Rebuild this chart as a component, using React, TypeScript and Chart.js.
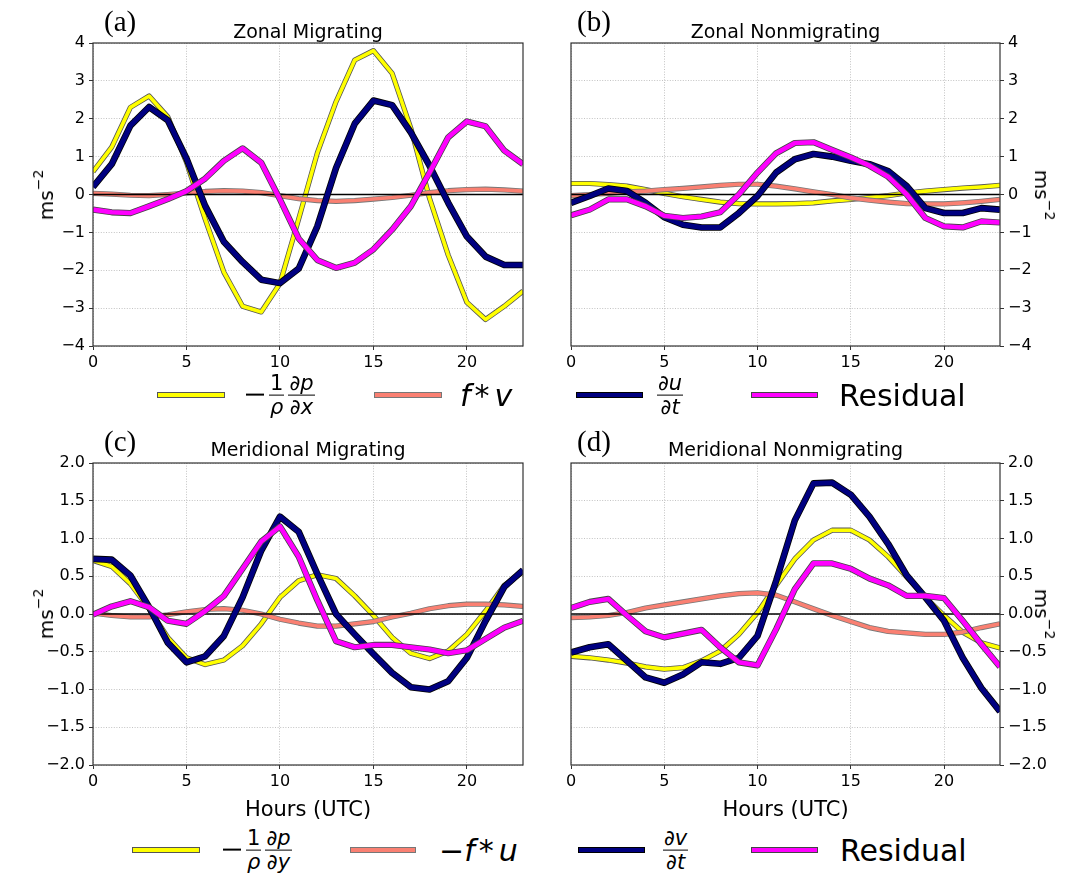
import React, { useEffect, useRef } from 'react';
import { Chart, registerables } from 'chart.js';

Chart.register(...registerables);

// ---------- data ----------
const hours = [0, 1, 2, 3, 4, 5, 6, 7, 8, 9, 10, 11, 12, 13, 14, 15, 16, 17, 18, 19, 20, 21, 22, 23];
const xTicks = [0, 5, 10, 15, 20];
const zonalYTicks = [-4, -3, -2, -1, 0, 1, 2, 3, 4];
const meridYTicks = [-2, -1.5, -1, -0.5, 0, 0.5, 1, 1.5, 2];

// (a) Zonal Migrating
const zmPressure = [0.6, 1.25, 2.3, 2.6, 2.05, 0.85, -0.65, -2.05, -2.95, -3.1, -2.35, -0.65, 1.1, 2.45, 3.55, 3.8, 3.2, 1.75, -0.1, -1.6, -2.85, -3.3, -2.95, -2.55];
const zmCoriolis = [0.03, 0.01, -0.02, -0.03, 0.0, 0.04, 0.08, 0.1, 0.09, 0.05, -0.03, -0.11, -0.16, -0.18, -0.16, -0.12, -0.08, -0.02, 0.05, 0.1, 0.13, 0.14, 0.12, 0.09];
const zmTendency = [0.2, 0.8, 1.82, 2.31, 1.96, 0.95, -0.3, -1.25, -1.78, -2.25, -2.34, -1.96, -0.84, 0.7, 1.87, 2.48, 2.36, 1.64, 0.76, -0.22, -1.11, -1.64, -1.86, -1.86];
const zmResidual = [-0.4, -0.47, -0.49, -0.31, -0.12, 0.09, 0.42, 0.89, 1.22, 0.84, -0.13, -1.16, -1.73, -1.94, -1.8, -1.45, -0.93, -0.31, 0.58, 1.51, 1.93, 1.8, 1.16, 0.8];

// (b) Zonal Nonmigrating
const znPressure = [0.29, 0.29, 0.26, 0.22, 0.13, 0.03, -0.06, -0.13, -0.2, -0.24, -0.25, -0.25, -0.24, -0.22, -0.17, -0.13, -0.08, -0.03, 0.04, 0.09, 0.13, 0.17, 0.2, 0.24];
const znCoriolis = [-0.03, 0.0, 0.03, 0.07, 0.09, 0.13, 0.16, 0.2, 0.24, 0.27, 0.27, 0.22, 0.15, 0.07, 0.0, -0.09, -0.15, -0.2, -0.24, -0.25, -0.25, -0.22, -0.18, -0.13];
const znTendency = [-0.22, -0.04, 0.16, 0.09, -0.22, -0.6, -0.8, -0.87, -0.87, -0.49, -0.04, 0.58, 0.93, 1.07, 1.0, 0.89, 0.8, 0.62, 0.22, -0.36, -0.49, -0.49, -0.36, -0.4];
const znResidual = [-0.55, -0.4, -0.13, -0.13, -0.31, -0.56, -0.62, -0.58, -0.47, 0.0, 0.58, 1.09, 1.36, 1.38, 1.18, 0.98, 0.76, 0.47, 0.0, -0.62, -0.84, -0.87, -0.71, -0.74];

// (c) Meridional Migrating
const mmPressure = [0.71, 0.63, 0.4, 0.07, -0.31, -0.58, -0.67, -0.61, -0.42, -0.13, 0.22, 0.44, 0.52, 0.47, 0.24, -0.02, -0.31, -0.52, -0.59, -0.49, -0.27, 0.04, 0.38, 0.56];
const mmCoriolis = [0.01, -0.02, -0.04, -0.04, -0.01, 0.03, 0.06, 0.07, 0.05, 0.0, -0.07, -0.12, -0.16, -0.16, -0.13, -0.1, -0.04, 0.01, 0.07, 0.11, 0.13, 0.13, 0.12, 0.1];
const mmTendency = [0.73, 0.72, 0.51, 0.09, -0.38, -0.64, -0.56, -0.29, 0.22, 0.84, 1.29, 1.09, 0.53, 0.0, -0.27, -0.53, -0.78, -0.97, -1.0, -0.89, -0.58, -0.09, 0.36, 0.58];
const mmResidual = [-0.01, 0.1, 0.17, 0.09, -0.09, -0.13, 0.04, 0.24, 0.6, 0.96, 1.16, 0.76, 0.18, -0.36, -0.44, -0.41, -0.41, -0.44, -0.47, -0.52, -0.48, -0.33, -0.18, -0.09];

// (d) Meridional Nonmigrating
const mnPressure = [-0.56, -0.58, -0.61, -0.65, -0.7, -0.73, -0.71, -0.62, -0.49, -0.27, 0.02, 0.38, 0.73, 0.98, 1.11, 1.11, 0.98, 0.76, 0.49, 0.22, -0.02, -0.24, -0.38, -0.45];
const mnCoriolis = [-0.05, -0.04, -0.02, 0.02, 0.08, 0.12, 0.16, 0.2, 0.24, 0.27, 0.28, 0.25, 0.16, 0.07, -0.02, -0.1, -0.18, -0.23, -0.25, -0.27, -0.27, -0.24, -0.18, -0.13];
const mnTendency = [-0.51, -0.44, -0.4, -0.62, -0.84, -0.91, -0.8, -0.64, -0.66, -0.58, -0.29, 0.44, 1.24, 1.73, 1.74, 1.58, 1.29, 0.93, 0.51, 0.22, -0.09, -0.58, -0.98, -1.29];
const mnResidual = [0.08, 0.16, 0.2, -0.02, -0.23, -0.31, -0.26, -0.21, -0.44, -0.64, -0.68, -0.2, 0.33, 0.67, 0.67, 0.6, 0.47, 0.38, 0.24, 0.24, 0.21, -0.09, -0.4, -0.7];

// ---------- styles ----------
const SERIES_STYLE = [
  { color: '#ffff00', edge: '#555555', w: 3.6 },
  { color: '#fa8072', edge: '#777777', w: 3.6 },
  { color: '#000080', edge: '#000000', w: 5 },
  { color: '#ff00ff', edge: '#444444', w: 4.6 },
];
const SANS = "'DejaVu Sans', 'Noto Sans', sans-serif";
const SERIF = "'Liberation Serif', 'DejaVu Serif', serif";

const fmtInt = (v: number) => (v < 0 ? '\u2212' + Math.abs(v) : String(v));
const fmtOne = (v: number) => (v < 0 ? '\u2212' + Math.abs(v).toFixed(1) : v.toFixed(1));

const framePlugin = {
  id: 'frameAndZero',
  afterDatasetDraw(chart: any, args: any) {
    if (args.index !== 3) return;
    const { ctx, chartArea } = chart;
    const y0 = chart.scales.y.getPixelForValue(0);
    ctx.save();
    ctx.strokeStyle = '#000000';
    ctx.lineWidth = 1.5;
    ctx.beginPath();
    ctx.moveTo(chartArea.left, y0);
    ctx.lineTo(chartArea.right, y0);
    ctx.stroke();
    ctx.restore();
  },
  afterDraw(chart: any) {
    const { ctx, chartArea } = chart;
    ctx.save();
    ctx.strokeStyle = '#333333';
    ctx.lineWidth = 1.2;
    ctx.strokeRect(chartArea.left, chartArea.top, chartArea.right - chartArea.left, chartArea.bottom - chartArea.top);
    ctx.restore();
  },
};

type PanelProps = {
  x: number; y: number; w: number; h: number;
  padLeft: number; padRight: number; padTop: number;
  yWidth: number; xHeight: number;
  side: 'left' | 'right';
  yMin: number; yMax: number; yTicks: number[];
  fmt: (v: number) => string;
  series: number[][];
};

function Panel(p: PanelProps) {
  const ref = useRef<HTMLCanvasElement>(null);
  useEffect(() => {
    const canvas = ref.current;
    if (!canvas) return;
    const datasets: any[] = [];
    let order = p.series.length * 2;
    p.series.forEach((vals, i) => {
      const st = SERIES_STYLE[i];
      const pts = hours.map((hr, j) => ({ x: hr, y: vals[j] }));
      datasets.push({
        data: pts, borderColor: st.edge, borderWidth: st.w + 1.6, pointRadius: 0, tension: 0,
        borderJoinStyle: 'round', fill: false, order: order--, clip: 0,
      });
      datasets.push({
        data: pts, borderColor: st.color, borderWidth: st.w, pointRadius: 0, tension: 0,
        borderJoinStyle: 'round', fill: false, order: order--, clip: 0,
      });
    });
    const tickFont = { family: SANS, size: 16 };
    const chart = new Chart(canvas, {
      type: 'line',
      data: { datasets },
      options: {
        animation: false,
        responsive: false,
        maintainAspectRatio: false,
        devicePixelRatio: 1,
        layout: { padding: { left: p.padLeft, right: p.padRight, top: p.padTop, bottom: 0 } },
        plugins: { legend: { display: false }, tooltip: { enabled: false }, title: { display: false } },
        scales: {
          x: {
            type: 'linear', min: 0, max: 23,
            afterBuildTicks: (s: any) => { s.ticks = xTicks.map((v) => ({ value: v })); },
            afterFit: (s: any) => { s.height = p.xHeight; },
            ticks: { font: tickFont, color: '#000', padding: 3, maxRotation: 0, autoSkip: false, callback: (v: any) => String(v) },
            grid: { color: '#b4b4b4', lineWidth: 0.8, tickColor: '#333', tickLength: 4, tickWidth: 1 },
            border: { display: false, dash: [1, 1.6] },
          },
          y: {
            type: 'linear', position: p.side, min: p.yMin, max: p.yMax,
            afterBuildTicks: (s: any) => { s.ticks = p.yTicks.map((v) => ({ value: v })); },
            afterFit: (s: any) => { s.width = p.yWidth; },
            ticks: { font: tickFont, color: '#000', padding: 4, autoSkip: false, callback: (v: any) => p.fmt(Number(v)) },
            grid: { color: '#b4b4b4', lineWidth: 0.8, tickColor: '#333', tickLength: 4, tickWidth: 1 },
            border: { display: false, dash: [1, 1.6] },
          },
        },
      } as any,
      plugins: [framePlugin],
    });
    return () => chart.destroy();
  }, []);
  return (
    <canvas
      ref={ref}
      width={p.w}
      height={p.h}
      style={{ position: 'absolute', left: p.x, top: p.y, width: p.w, height: p.h }}
    />
  );
}

// ---------- text helpers ----------
const I = ({ children }: { children: React.ReactNode }) => <span style={{ fontStyle: 'italic' }}>{children}</span>;

const Frac = ({ num, den, size = 21 }: { num: React.ReactNode; den: React.ReactNode; size?: number }) => (
  <span style={{ display: 'inline-flex', flexDirection: 'column', alignItems: 'center', fontSize: size, lineHeight: 0.9, margin: '0 2px' }}>
    <span style={{ padding: '0 1px' }}>{num}</span>
    <span style={{ alignSelf: 'stretch', height: 0, borderTop: '1.8px solid #000', margin: '2px 0 2px' }} />
    <span style={{ padding: '0 1px' }}>{den}</span>
  </span>
);

const Text = ({ left, top, size, family = SANS, children, style }: any) => (
  <div style={{ position: 'absolute', left, top, fontSize: size, lineHeight: 1, fontFamily: family, color: '#000', whiteSpace: 'nowrap', ...style }}>
    {children}
  </div>
);

const Centered = ({ left, width, top, size, children }: any) => (
  <div style={{ position: 'absolute', left, width, top, fontSize: size, lineHeight: 1, fontFamily: SANS, textAlign: 'center', whiteSpace: 'nowrap', color: '#000' }}>
    {children}
  </div>
);

const YLabel = ({ cx, cy, rot }: { cx: number; cy: number; rot: number }) => (
  <div style={{ position: 'absolute', left: cx, top: cy, transform: `translate(-50%, -50%) rotate(${rot}deg)`, fontFamily: SANS, fontSize: 20, lineHeight: 1, whiteSpace: 'nowrap', color: '#000' }}>
    ms<sup style={{ fontSize: 14, verticalAlign: 'top', position: 'relative', top: -5 }}>{'\u22122'}</sup>
  </div>
);

const Swatch = ({ left, cy, width, idx }: { left: number; cy: number; width: number; idx: number }) => (
  <div style={{ position: 'absolute', left, top: cy - 3, width, height: 4, background: SERIES_STYLE[idx].color, border: `1px solid ${SERIES_STYLE[idx].edge}` }} />
);

const LegendText = ({ left, cy, children }: any) => (
  <div style={{ position: 'absolute', left, top: cy, transform: 'translateY(-50%)', display: 'flex', alignItems: 'center', fontFamily: SANS, color: '#000', whiteSpace: 'nowrap' }}>
    {children}
  </div>
);

const BigMinus = () => (
  <span style={{ display: 'inline-block', width: 18, height: 0, borderTop: '2.4px solid #000', marginRight: 3 }} />
);

export default function App() {
  const row1 = 395;
  const row2 = 850;
  return (
    <div style={{ position: 'absolute', left: 0, top: 0, width: 1083, height: 875, background: '#fff', overflow: 'hidden' }}>
      <Panel x={0} y={0} w={540} h={380} padLeft={0} padRight={17} padTop={43} yWidth={93} xHeight={34}
        side="left" yMin={-4} yMax={4} yTicks={zonalYTicks} fmt={fmtInt}
        series={[zmPressure, zmCoriolis, zmTendency, zmResidual]} />
      <Panel x={540} y={0} w={543} h={380} padLeft={31} padRight={0} padTop={43} yWidth={83} xHeight={34}
        side="right" yMin={-4} yMax={4} yTicks={zonalYTicks} fmt={fmtInt}
        series={[znPressure, znCoriolis, znTendency, znResidual]} />
      <Panel x={0} y={420} w={540} h={379} padLeft={0} padRight={17} padTop={43} yWidth={93} xHeight={34}
        side="left" yMin={-2} yMax={2} yTicks={meridYTicks} fmt={fmtOne}
        series={[mmPressure, mmCoriolis, mmTendency, mmResidual]} />
      <Panel x={540} y={420} w={543} h={379} padLeft={31} padRight={0} padTop={43} yWidth={83} xHeight={34}
        side="right" yMin={-2} yMax={2} yTicks={meridYTicks} fmt={fmtOne}
        series={[mnPressure, mnCoriolis, mnTendency, mnResidual]} />

      {/* panel letters */}
      <Text left={104} top={7} size={29} family={SERIF}>(a)</Text>
      <Text left={577} top={7} size={29} family={SERIF}>(b)</Text>
      <Text left={104} top={427} size={29} family={SERIF}>(c)</Text>
      <Text left={577} top={427} size={29} family={SERIF}>(d)</Text>

      {/* titles */}
      <Centered left={93} width={430} top={22} size={19}>Zonal Migrating</Centered>
      <Centered left={571} width={429} top={22} size={19}>Zonal Nonmigrating</Centered>
      <Centered left={93} width={430} top={440} size={19}>Meridional Migrating</Centered>
      <Centered left={571} width={429} top={440} size={19}>Meridional Nonmigrating</Centered>

      {/* axis labels */}
      <YLabel cx={46} cy={195} rot={-90} />
      <YLabel cx={1042} cy={195} rot={90} />
      <YLabel cx={46} cy={614} rot={-90} />
      <YLabel cx={1042} cy={614} rot={90} />
      <Centered left={93} width={430} top={799} size={21}>Hours (UTC)</Centered>
      <Centered left={571} width={429} top={799} size={21}>Hours (UTC)</Centered>

      {/* legend row 1 */}
      <Swatch left={157} cy={row1} width={66} idx={0} />
      <LegendText left={246} cy={row1}>
        <BigMinus />
        <Frac num="1" den={<I>ρ</I>} />
        <Frac num={<>∂<I>p</I></>} den={<>∂<I>x</I></>} />
      </LegendText>
      <Swatch left={374} cy={row1} width={66} idx={1} />
      <LegendText left={460} cy={row1}>
        <span style={{ fontSize: 30 }}><I>f</I><span style={{ margin: '0 5px 0 4px' }}>*</span><I>v</I></span>
      </LegendText>
      <Swatch left={576} cy={row1} width={65} idx={2} />
      <LegendText left={655} cy={row1}>
        <Frac num={<>∂<I>u</I></>} den={<>∂<I>t</I></>} />
      </LegendText>
      <Swatch left={751} cy={row1} width={65} idx={3} />
      <LegendText left={839} cy={row1}>
        <span style={{ fontSize: 30 }}>Residual</span>
      </LegendText>

      {/* legend row 2 */}
      <Swatch left={132} cy={row2} width={66} idx={0} />
      <LegendText left={223} cy={row2}>
        <BigMinus />
        <Frac num="1" den={<I>ρ</I>} />
        <Frac num={<>∂<I>p</I></>} den={<>∂<I>y</I></>} />
      </LegendText>
      <Swatch left={350} cy={row2} width={64} idx={1} />
      <LegendText left={439} cy={row2}>
        <span style={{ fontSize: 30 }}>{'\u2212'}<I>f</I><span style={{ margin: '0 5px 0 4px' }}>*</span><I>u</I></span>
      </LegendText>
      <Swatch left={578} cy={row2} width={65} idx={2} />
      <LegendText left={661} cy={row2}>
        <Frac num={<>∂<I>v</I></>} den={<>∂<I>t</I></>} />
      </LegendText>
      <Swatch left={751} cy={row2} width={65} idx={3} />
      <LegendText left={840} cy={row2}>
        <span style={{ fontSize: 30 }}>Residual</span>
      </LegendText>
    </div>
  );
}
